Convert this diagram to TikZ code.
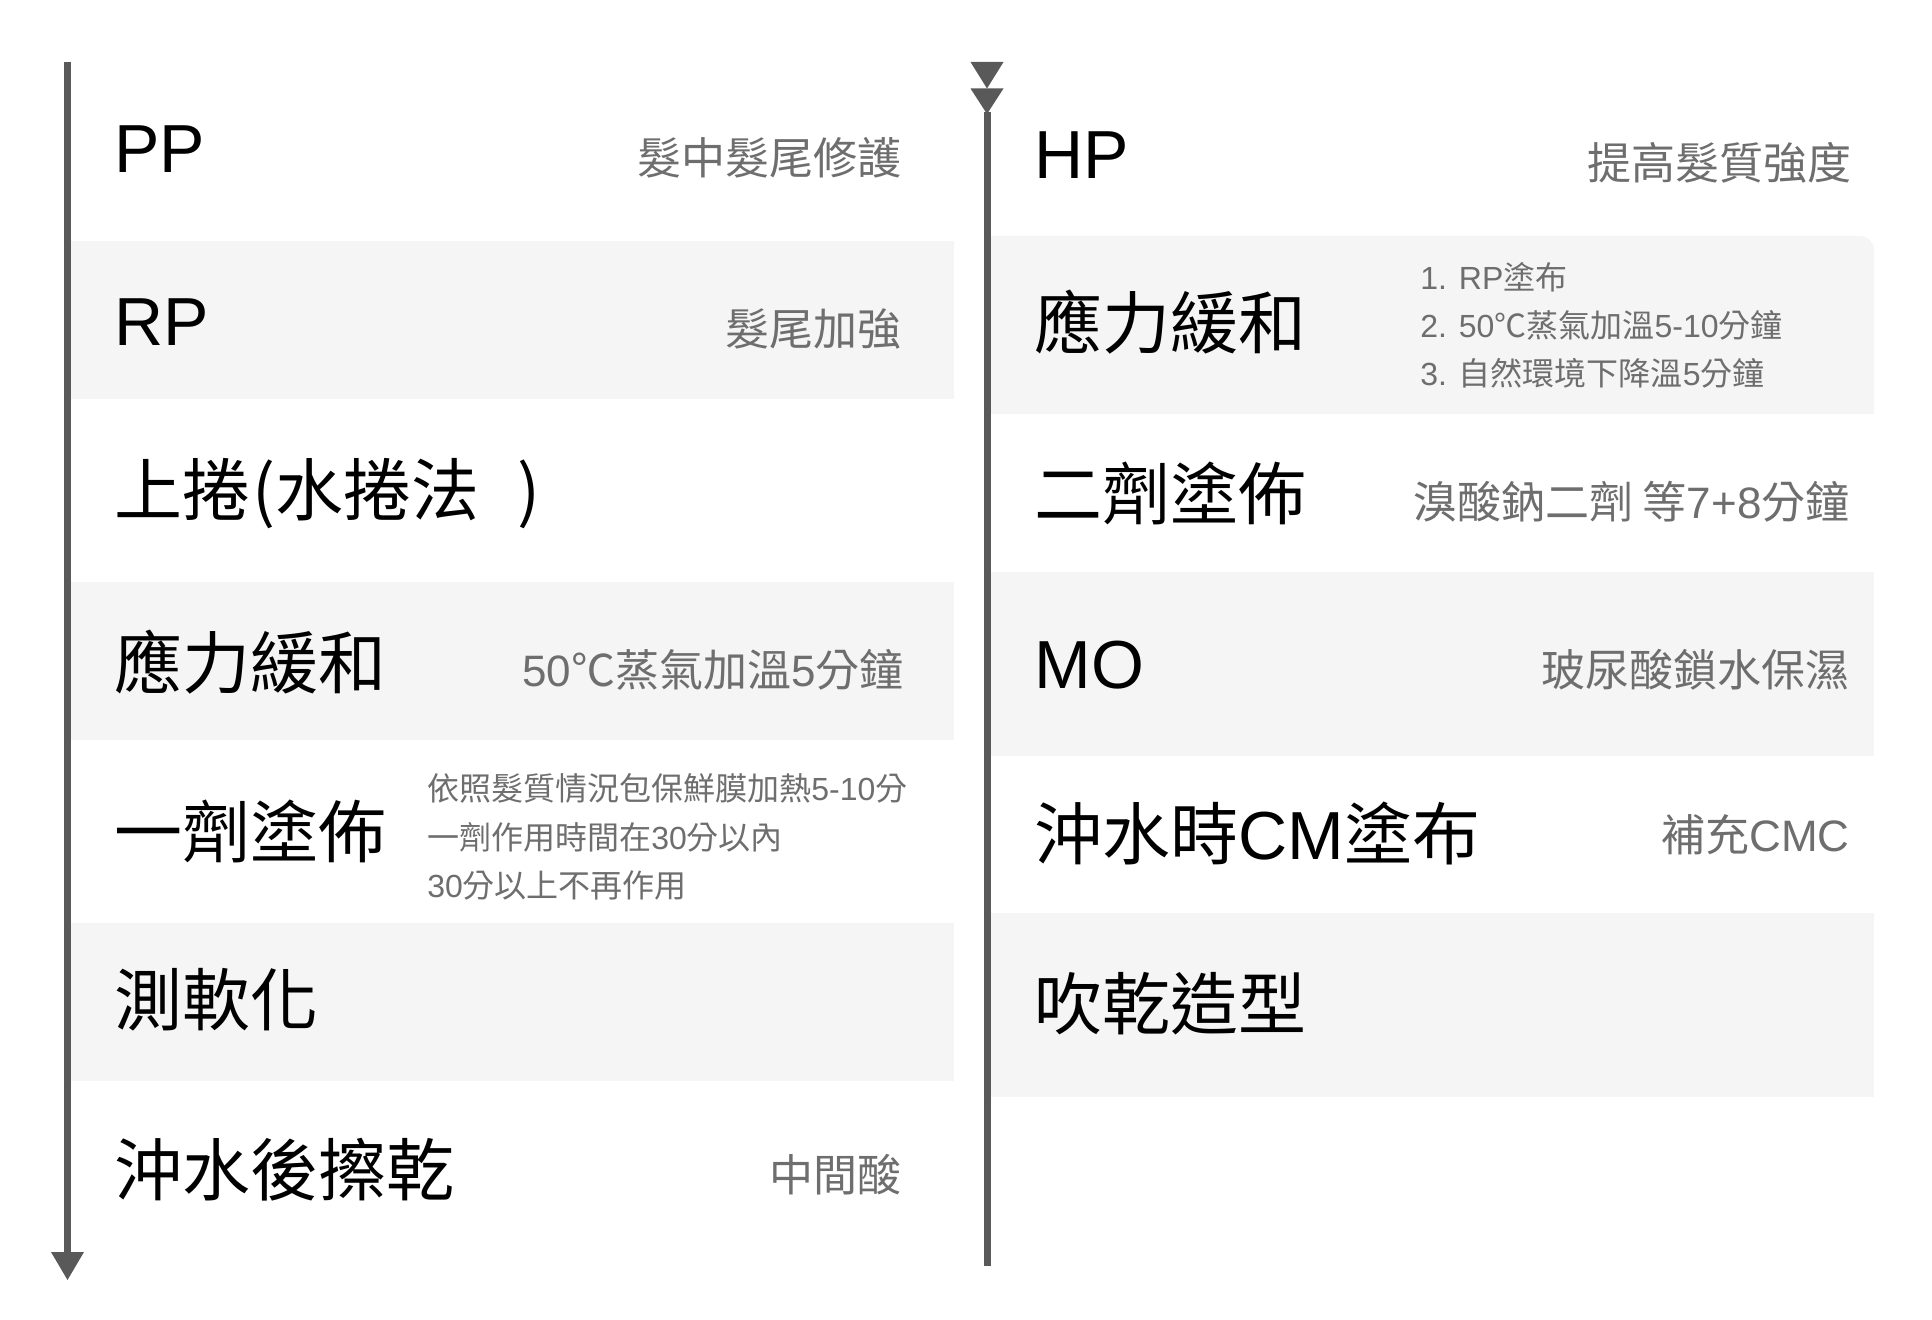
\documentclass[tikz,border=0pt]{standalone}
\usepackage{fontspec}
\setmainfont{Noto Sans CJK TC}
\newfontfamily\lat{Liberation Sans}
\definecolor{bandc}{HTML}{F5F5F5}
\definecolor{linec}{HTML}{595959}
\definecolor{subc}{HTML}{6E6E6E}
\tikzset{
  band/.style={fill=bandc},
  tline/.style={draw=linec, line width=3.5pt},
  tip/.style={fill=linec},
  mainlbl/.style={anchor=base west, inner sep=0pt, text=black, font=\fontsize{34pt}{40pt}\selectfont},
  sublbl/.style={anchor=base east, inner sep=0pt, text=subc, font=\fontsize{22pt}{26pt}\selectfont},
  smalllbl/.style={anchor=base west, inner sep=0pt, text=subc, font=\fontsize{16pt}{20pt}\selectfont}
}
\begin{document}
\begin{tikzpicture}[x=0.5pt, y=-0.5pt]
\useasboundingbox[fill=white] (0,0) rectangle (1932,1320);
% bands left
\fill[band] (71,241) rectangle (954,399);
\fill[band] (71,582) rectangle (954,740);
\fill[band] (71,923) rectangle (954,1081);
% bands right
\fill[band] (991,414) -- (991,236) -- (1860,236) arc[start angle=90, end angle=0, radius=7pt] -- (1874,414) -- cycle;
\fill[band] (991,572) rectangle (1874,756);
\fill[band] (991,913) rectangle (1874,1097);
% timelines
\coordinate (ltop) at (67.5,62);
\coordinate (lbot) at (67.5,1253);
\coordinate (rtop) at (987,112);
\coordinate (rbot) at (987,1266);
\draw[tline] (ltop) -- (lbot);
\fill[tip] (51,1252) -- (84,1252) -- (67.5,1280) -- cycle;
\draw[tline] (rtop) -- (rbot);
\fill[tip] (970.5,62) -- (1003.5,62) -- (987,88.5) -- cycle;
\fill[tip] (970.5,88.5) -- (1003.5,88.5) -- (987,114) -- cycle;
% left column
\node[mainlbl] (pp) at (114,173) {\lat PP};
\node[sublbl] (pps) at (902,175) {髮中髮尾修護};
\node[mainlbl] (rp) at (114,346) {\lat RP};
\node[sublbl] (rps) at (902,346) {髮尾加強};
\node[mainlbl] (up) at (114,516) {上捲\hspace{1pt}(水捲法\hspace{19pt})};
\node[mainlbl] (relax) at (114,688) {應力緩和};
\node[sublbl] (relaxs) at (904,686) {{\lat 50}℃蒸氣加溫{\lat 5}分鐘};
\node[mainlbl] (one) at (114,857) {一劑塗佈};
\node[smalllbl] (onea) at (427,800) {依照髮質情況包保鮮膜加熱{\lat 5-10}分};
\node[smalllbl] (oneb) at (427,849) {一劑作用時間在{\lat 30}分以內};
\node[smalllbl] (onec) at (427,897) {{\lat 30}分以上不再作用};
\node[mainlbl] (soft) at (114,1025) {測軟化};
\node[mainlbl] (rinse) at (114,1195) {沖水後擦乾};
\node[sublbl] (rinses) at (902,1191) {中間酸};
% right column
\node[mainlbl] (hp) at (1034,179) {\lat HP};
\node[sublbl] (hps) at (1852,180) {提高髮質強度};
\node[mainlbl] (relax2) at (1034,349) {應力緩和};
\node[smalllbl] (r2a) at (1420,290) {{\lat 1. RP}塗布};
\node[smalllbl] (r2b) at (1420,338) {{\lat 2. 50}℃蒸氣加溫{\lat 5-10}分鐘};
\node[smalllbl] (r2c) at (1420,386) {{\lat 3. }自然環境下降溫{\lat 5}分鐘};
\node[mainlbl] (two) at (1034,520) {二劑塗佈};
\node[sublbl] (twos) at (1850,519) {溴酸鈉二劑 等{\lat 7+8}分鐘};
\node[mainlbl] (mo) at (1034,688) {\lat MO};
\node[sublbl] (mos) at (1850,686) {玻尿酸鎖水保濕};
\node[mainlbl] (cm) at (1034,859) {沖水時{\lat CM}塗布};
\node[sublbl] (cms) at (1850,851) {補充{\lat CMC}};
\node[mainlbl] (dry) at (1034,1029) {吹乾造型};
\end{tikzpicture}
\end{document}
